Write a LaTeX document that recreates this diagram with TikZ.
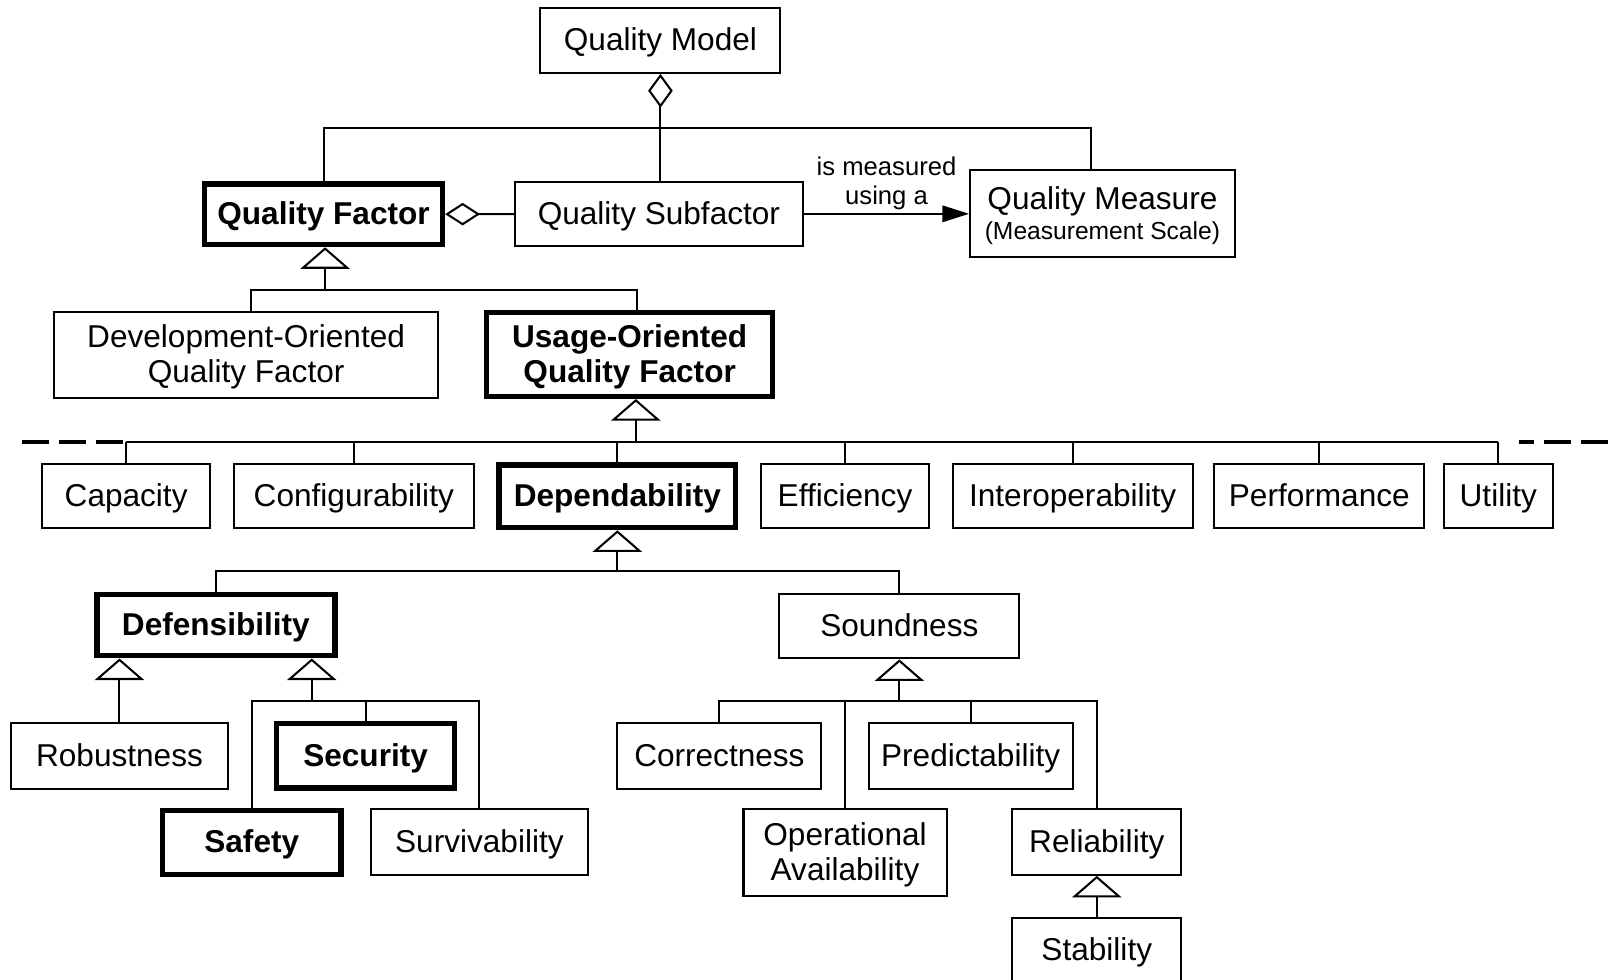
\documentclass[tikz,border=0pt]{standalone}
\usepackage{fontspec}
\setmainfont{Liberation Sans}
\usetikzlibrary{arrows.meta}

\tikzset{
        box/.style={draw, line width=1pt, inner sep=0pt, align=center, text height=11pt, text depth=1pt, font=\fontsize{15.4}{17}\selectfont},
        boldbox/.style={box, line width=2.6pt, font=\fontsize{15.4}{17}\selectfont\bfseries},
        twolines/.style={text height=28pt, text depth=1pt},
        wire/.style={line width=1pt},
        gen/.style={wire, -{Triangle[fill=white,length=10.5pt,width=24pt]}},
        aggr/.style={wire, -{Diamond[fill=white,length=16.5pt,width=12pt]}},
        meas/.style={wire, -{Triangle[length=13pt,width=8pt]}},
        dashline/.style={line width=2pt, dash pattern=on 13pt off 5pt}
}

\begin{document}
\begin{tikzpicture}[x=0.5pt,y=-0.5pt]
        \useasboundingbox (0,0) rectangle (1568,955);
        \node[box, minimum width=117pt, minimum height=31.5pt] (qm) at (644,39.5) {Quality Model};
        \node[boldbox, minimum width=116pt, minimum height=29.5pt] (qf) at (315.5,209) {Quality Factor};
        \node[box, minimum width=140.5pt, minimum height=31.5pt] (qsf) at (642.5,208.5) {Quality Subfactor};
        \node[box, twolines, text height=26pt, minimum width=129pt, minimum height=42.5pt] (qms) at (1075,208.5) {Quality Measure\\[-2.5pt]{\fontsize{12}{14}\selectfont(Measurement Scale)}};
        \node[box, twolines, minimum width=187pt, minimum height=42pt] (dev) at (240,346) {Development-Oriented\\Quality Factor};
        \node[boldbox, twolines, minimum width=139.5pt, minimum height=41pt] (uof) at (614,345.5) {Usage-Oriented\\Quality Factor};
        \node[box, minimum width=82pt, minimum height=31.5pt] (cap) at (123,483.5) {Capacity};
        \node[box, minimum width=117pt, minimum height=31.5pt] (conf) at (345,483.5) {Configurability};
        \node[boldbox, minimum width=115.5pt, minimum height=30.5pt] (dep) at (602,484) {Dependability};
        \node[box, minimum width=82pt, minimum height=31.5pt] (eff) at (824,483.5) {Efficiency};
        \node[box, minimum width=117pt, minimum height=31.5pt] (inter) at (1046,483.5) {Interoperability};
        \node[box, minimum width=102.5pt, minimum height=31.5pt] (perf) at (1286.5,483.5) {Performance};
        \node[box, minimum width=53pt, minimum height=31.5pt] (util) at (1461,483.5) {Utility};
        \node[boldbox, minimum width=116pt, minimum height=30pt] (def) at (210.5,609.5) {Defensibility};
        \node[box, minimum width=117pt, minimum height=31.5pt] (snd) at (877,610.5) {Soundness};
        \node[box, minimum width=105.5pt, minimum height=32pt] (rob) at (116.5,737) {Robustness};
        \node[boldbox, minimum width=87pt, minimum height=31.5pt] (sec) at (356.5,737) {Security};
        \node[boldbox, minimum width=87pt, minimum height=31pt] (saf) at (245.5,821.5) {Safety};
        \node[box, minimum width=105.5pt, minimum height=32pt] (surv) at (467.5,821) {Survivability};
        \node[box, minimum width=99.5pt, minimum height=32pt] (cor) at (701.5,737) {Correctness};
        \node[box, minimum width=99.5pt, minimum height=32pt] (pred) at (946.5,737) {Predictability};
        \node[box, twolines, minimum width=99pt, minimum height=42.5pt] (oa) at (824,831.5) {Operational\\Availability};
        \node[box, minimum width=82.5pt, minimum height=32pt] (rel) at (1069.5,821) {Reliability};
        \node[box, minimum width=82.5pt, minimum height=32pt] (stab) at (1069.5,927) {Stability};

        \coordinate (bus0) at (644,125);
        \coordinate (bus1) at (317,283);
        \coordinate (bus2) at (620,431);
        \coordinate (bus3) at (602,557);
        \coordinate (bus4) at (304,684);
        \coordinate (bus5) at (877,684);
        \coordinate (lend) at (21.5,431);
        \coordinate (rend) at (1568,431);

        \draw[aggr] (bus0) -- (qm);
        \draw[wire] (qf.north) |- (bus0) -| ([xshift=-5.5pt]qms.north);
        \draw[wire] (bus0 |- qsf.north) -- (bus0);
        \draw[aggr, -{Diamond[fill=white,length=17pt,width=11pt]}] (qsf) -- (qf);
        \draw[meas] (qsf) -- (qms) node[midway, above=-2pt, align=center, font=\fontsize{12.5}{14.5}\selectfont] {is measured\\using a};

        \draw[gen] (bus1) -- (bus1 |- qf.south);
        \draw[wire] ([xshift=2.5pt]dev.north) |- (bus1) -| ([xshift=3.5pt]uof.north);

        \draw[gen] (bus2) -- (bus2 |- uof.south);
        \draw[wire] (cap.north |- bus2) -- (util.north |- bus2);
        \foreach \n in {cap,conf,dep,eff,inter,perf,util}
                \draw[wire] (\n.north) -- (\n.north |- bus2);
        \draw[dashline] (lend) -- (cap.north |- bus2);
        \draw[dashline] (rend) -- ([xshift=10pt]util.north |- bus2);

        \draw[gen] (bus3) -- (dep);
        \draw[wire] (def.north) |- (bus3) -| (snd.north);

        \draw[gen] (rob) -- (rob.north |- def.south);
        \draw[gen] (bus4) -- (bus4 |- def.south);
        \draw[wire] (saf.north) |- (bus4) -| (surv.north);
        \draw[wire] (sec.north) -- (sec.north |- bus4);

        \draw[gen] (bus5) -- (snd);
        \draw[wire] (cor.north) |- (bus5) -| (rel.north);
        \draw[wire] (oa.north) -- (oa.north |- bus5);
        \draw[wire] (pred.north) -- (pred.north |- bus5);

        \draw[gen] (stab) -- (rel);
\end{tikzpicture}
\end{document}
